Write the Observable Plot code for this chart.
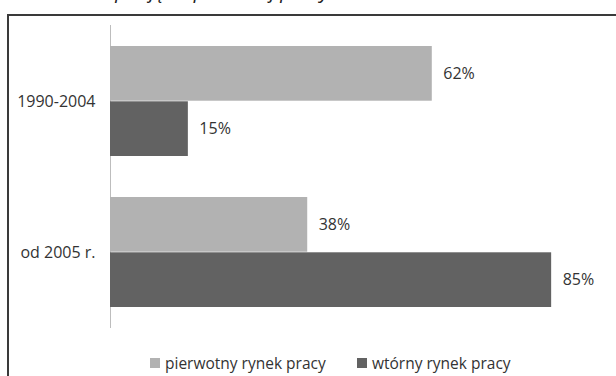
<!DOCTYPE html>
<html lang="pl">
<head>
<meta charset="utf-8">
<script src="https://cdn.jsdelivr.net/npm/d3@7"></script>
<script src="https://cdn.jsdelivr.net/npm/@observablehq/plot@0.6"></script>
<style>
  html, body { margin: 0; padding: 0; background: #fff; }
  #wrap { position: relative; width: 616px; height: 376px; overflow: hidden; background: #fff;
          font-family: "Open Sans", sans-serif; color: #333; }
  #title { position: absolute; left: 0; width: 524px; top: -19px; font-size: 20px; line-height: 20px;
           font-style: italic; text-align: center; color: #222; white-space: nowrap; }
  #frame { position: absolute; left: 7px; top: 14px; width: 700px; height: 500px;
           border: 2px solid #3a3a3a; box-sizing: border-box; pointer-events: none; }
  #chart { position: absolute; left: 0; top: 0; }
  #legend { position: absolute; top: 353px; left: 0; width: 616px; height: 20px;
            font-size: 15.5px; line-height: 20px; color: #333; }
  #legend .item { position: absolute; top: 0; display: flex; align-items: center; white-space: nowrap; }
  #legend .sw { width: 10px; height: 10px; margin-right: 5px; display: inline-block; }
</style>
</head>
<body>
<div id="wrap">
  <div id="title">podjęcie pierwszej pracy w latach</div>
  <div id="chart"></div>
  <div id="frame"></div>
  <div id="legend"></div>
</div>
<script>
// Periods and labour-market segments
const categories = ["1990-2004", "od 2005 r."];
const series = ["pierwotny rynek pracy", "wtórny rynek pracy"];
const pierwotny = [62, 38];
const wtorny = [15, 85];
const colors = ["#b2b2b2", "#626262"];

const rows = [];
categories.forEach((c, i) => {
  rows.push({category: c, series: series[0], value: pierwotny[i]});
  rows.push({category: c, series: series[1], value: wtorny[i]});
});

// Band geometry: each period band holds its two bars stacked edge to edge
const height = 340, marginTop = 25, marginBottom = 12;
const paddingInner = 0.27, paddingOuter = 0.135;
const step = (height - marginTop - marginBottom) / (categories.length - paddingInner + 2 * paddingOuter);
const half = step * (1 - paddingInner) / 2;

const first = rows.filter(d => d.series === series[0]);
const second = rows.filter(d => d.series === series[1]);

const chart = Plot.plot({
  width: 640,
  height,
  marginTop,
  marginBottom,
  marginLeft: 110,
  marginRight: 11,
  style: {fontFamily: "Open Sans, sans-serif", fontSize: "16px", color: "#333", background: "none", maxWidth: "none", overflow: "visible"},
  x: {domain: [0, 100], axis: null},
  y: {domain: categories, paddingInner, paddingOuter, tickSize: 0, tickPadding: 15, label: null},
  color: {domain: series, range: colors},
  marks: [
    Plot.ruleX([0], {stroke: "#bdbdbd", strokeWidth: 1}),
    Plot.barX(first, {x: "value", y: "category", fill: "series", insetBottom: half, insetTop: 0}),
    Plot.barX(second, {x: "value", y: "category", fill: "series", insetTop: half, insetBottom: 0}),
    Plot.text(first, {x: "value", y: "category", text: d => `${d.value}%`, dy: -half / 2, dx: 11, textAnchor: "start", fill: "#333", fontSize: 16}),
    Plot.text(second, {x: "value", y: "category", text: d => `${d.value}%`, dy: half / 2, dx: 11, textAnchor: "start", fill: "#333", fontSize: 16})
  ]
});
document.getElementById("chart").appendChild(chart);

// Legend below the plot area
const legend = document.getElementById("legend");
const legendLeft = [150, 357];
series.forEach((s, i) => {
  const item = document.createElement("span");
  item.className = "item";
  item.style.left = legendLeft[i] + "px";
  const sw = document.createElement("span");
  sw.className = "sw";
  sw.style.background = colors[i];
  item.appendChild(sw);
  item.appendChild(document.createTextNode(s));
  legend.appendChild(item);
});
</script>
</body>
</html>
